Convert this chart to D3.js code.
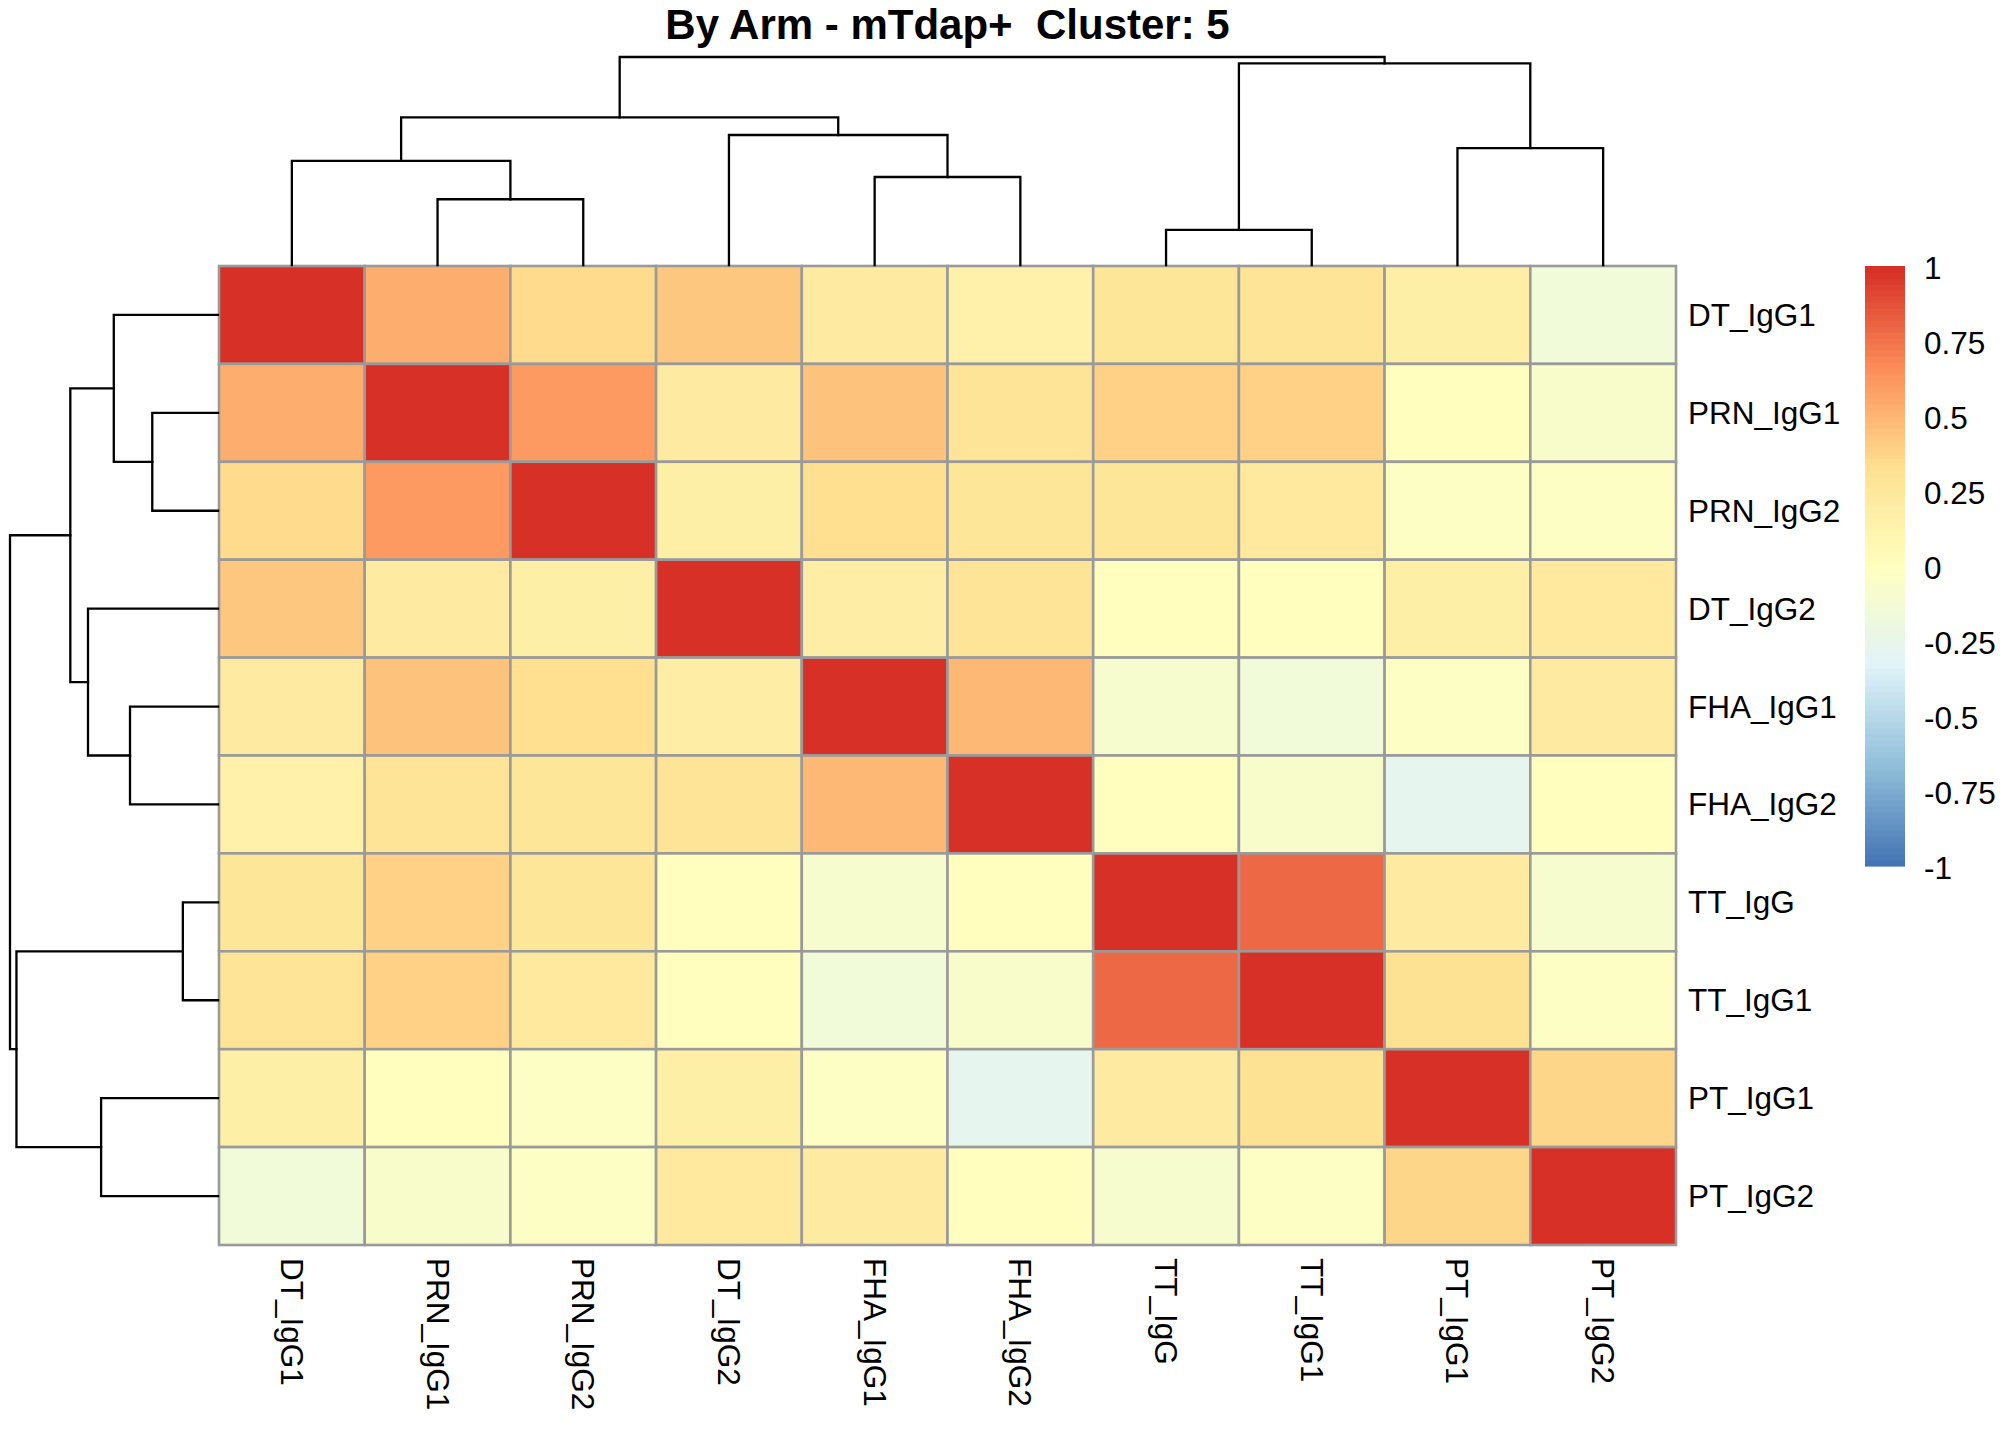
<!DOCTYPE html>
<html>
<head>
<meta charset="utf-8">
<script src="https://cdn.jsdelivr.net/npm/d3@7"></script>
<style>
  html, body { margin: 0; padding: 0; background: #ffffff; }
  svg { display: block; }
  text { font-family: "Liberation Sans", Arial, Helvetica, sans-serif; fill: #000; }
</style>
</head>
<body>
<svg id="chart" width="2016" height="1440"></svg>
<script>
// ---------------- data ----------------
const titleText = "By Arm - mTdap+  Cluster: 5";

const labels = ["DT_IgG1", "PRN_IgG1", "PRN_IgG2", "DT_IgG2", "FHA_IgG1",
                "FHA_IgG2", "TT_IgG", "TT_IgG1", "PT_IgG1", "PT_IgG2"];

// correlation matrix (rows and columns in the displayed order)
const rowDT_IgG1  = [ 1.00,  0.53,  0.35,  0.42,  0.20,  0.15,  0.27,  0.28,  0.17, -0.15];
const rowPRN_IgG1 = [ 0.53,  1.00,  0.61,  0.21,  0.45,  0.28,  0.39,  0.39,  0.01, -0.08];
const rowPRN_IgG2 = [ 0.35,  0.61,  1.00,  0.17,  0.33,  0.27,  0.26,  0.22, -0.03, -0.03];
const rowDT_IgG2  = [ 0.42,  0.21,  0.17,  1.00,  0.19,  0.28,  0.01,  0.01,  0.16,  0.22];
const rowFHA_IgG1 = [ 0.20,  0.45,  0.33,  0.19,  1.00,  0.48, -0.10, -0.15, -0.03,  0.20];
const rowFHA_IgG2 = [ 0.15,  0.28,  0.27,  0.28,  0.48,  1.00,  0.01, -0.08, -0.28,  0.01];
const rowTT_IgG   = [ 0.27,  0.39,  0.26,  0.01, -0.10,  0.01,  1.00,  0.79,  0.20, -0.10];
const rowTT_IgG1  = [ 0.28,  0.39,  0.22,  0.01, -0.15, -0.08,  0.79,  1.00,  0.30, -0.03];
const rowPT_IgG1  = [ 0.17,  0.01, -0.03,  0.16, -0.03, -0.28,  0.20,  0.30,  1.00,  0.36];
const rowPT_IgG2  = [-0.15, -0.08, -0.03,  0.22,  0.20,  0.01, -0.10, -0.03,  0.36,  1.00];
const matrix = [rowDT_IgG1, rowPRN_IgG1, rowPRN_IgG2, rowDT_IgG2, rowFHA_IgG1,
                rowFHA_IgG2, rowTT_IgG, rowTT_IgG1, rowPT_IgG1, rowPT_IgG2];

// hierarchical clustering (same tree for rows and columns), hclust style:
// negative = leaf (1-based position in display order), positive = earlier merge
const mergeLeft   = [-7, -2, -5, -1, -9, -4, 4, 1, 7];
const mergeRight  = [-8, -3, -6,  2, -10, 3, 6, 5, 8];
const mergeHeight = [0.169, 0.316, 0.423, 0.501, 0.562, 0.625, 0.710, 0.969, 1.000];

const legendTicks = [1, 0.75, 0.5, 0.25, 0, -0.25, -0.5, -0.75, -1];
const legendTickLabels = ["1", "0.75", "0.5", "0.25", "0", "-0.25", "-0.5", "-0.75", "-1"];

// palette: rev(brewer.pal(7, "RdYlBu")) ramped to 100 colours
const paletteStops = ["#4575B4", "#91BFDB", "#E0F3F8", "#FFFFBF", "#FEE090", "#FC8D59", "#D73027"];

// ---------------- layout ----------------
const hmLeft = 219, hmRight = 1676, hmTop = 266, hmBottom = 1245;
const treeTopY = 57, treeLeftX = 10;

const svg = d3.select("#chart");
svg.append("rect").attr("width", 2016).attr("height", 1440).attr("fill", "#fff");

const x = d3.scaleBand().domain(labels).range([hmLeft, hmRight]).padding(0);
const y = d3.scaleBand().domain(labels).range([hmTop, hmBottom]).padding(0);

const ramp = d3.scaleLinear()
  .domain(d3.range(paletteStops.length).map(i => i / (paletteStops.length - 1)))
  .range(paletteStops)
  .interpolate(d3.interpolateRgb);
const nColors = 100;
const colors = d3.range(nColors).map(i => ramp(i / (nColors - 1)));
const binScale = d3.scaleQuantize().domain([-1, 1]).range(colors);
const colorOf = v => binScale(Math.max(-1, Math.min(1, v)));

// ---------------- heatmap ----------------
const cells = [];
matrix.forEach((row, i) => row.forEach((v, j) => cells.push({r: labels[i], c: labels[j], v})));

svg.append("g").selectAll("rect").data(cells).join("rect")
  .attr("x", d => x(d.c))
  .attr("y", d => y(d.r))
  .attr("width", x.bandwidth())
  .attr("height", y.bandwidth())
  .attr("fill", d => colorOf(d.v))
  .attr("stroke", "#9A9A9A")
  .attr("stroke-width", 2.6);

// ---------------- dendrograms ----------------
function buildTree() {
  const nodes = [];
  const posOf = idx => idx < 0 ? {pos: -idx - 1, h: 0} : nodes[idx - 1];
  for (let k = 0; k < mergeLeft.length; k++) {
    const a = posOf(mergeLeft[k]), b = posOf(mergeRight[k]);
    nodes.push({a, b, pos: (a.pos + b.pos) / 2, h: mergeHeight[k]});
  }
  return nodes;
}
const treeNodes = buildTree();
const maxH = d3.max(mergeHeight);
const leafPosX = p => x(labels[0]) + (p + 0.5) * x.bandwidth();
const leafPosY = p => y(labels[0]) + (p + 0.5) * y.bandwidth();

// column tree (top)
const hTop = d3.scaleLinear().domain([0, maxH]).range([hmTop - 1, treeTopY]);
const colTree = svg.append("g").attr("fill", "none").attr("stroke", "#000")
  .attr("stroke-width", 2.3).attr("stroke-linecap", "square");
treeNodes.forEach(n => {
  const path = d3.path();
  path.moveTo(leafPosX(n.a.pos), hTop(n.a.h));
  path.lineTo(leafPosX(n.a.pos), hTop(n.h));
  path.lineTo(leafPosX(n.b.pos), hTop(n.h));
  path.lineTo(leafPosX(n.b.pos), hTop(n.b.h));
  colTree.append("path").attr("d", path.toString());
});

// row tree (left)
const hLeft = d3.scaleLinear().domain([0, maxH]).range([hmLeft - 1, treeLeftX]);
const rowTree = svg.append("g").attr("fill", "none").attr("stroke", "#000")
  .attr("stroke-width", 2.3).attr("stroke-linecap", "square");
treeNodes.forEach(n => {
  const path = d3.path();
  path.moveTo(hLeft(n.a.h), leafPosY(n.a.pos));
  path.lineTo(hLeft(n.h), leafPosY(n.a.pos));
  path.lineTo(hLeft(n.h), leafPosY(n.b.pos));
  path.lineTo(hLeft(n.b.h), leafPosY(n.b.pos));
  rowTree.append("path").attr("d", path.toString());
});

// ---------------- labels ----------------
svg.append("g").selectAll("text").data(labels).join("text")
  .attr("x", hmRight + 12)
  .attr("y", d => y(d) + y.bandwidth() / 2)
  .attr("dy", "0.35em")
  .attr("font-size", 31.5)
  .text(d => d);

svg.append("g").selectAll("text").data(labels).join("text")
  .attr("transform", d => `translate(${x(d) + x.bandwidth() / 2},${hmBottom + 13}) rotate(90)`)
  .attr("dy", "0.35em")
  .attr("text-anchor", "start")
  .attr("font-size", 31.5)
  .text(d => d);

// ---------------- title ----------------
svg.append("text")
  .attr("x", (hmLeft + hmRight) / 2)
  .attr("y", 39)
  .attr("text-anchor", "middle")
  .attr("font-size", 42)
  .attr("font-weight", "bold")
  .style("white-space", "pre")
  .attr("xml:space", "preserve")
  .text(titleText);

// ---------------- legend ----------------
const legX = 1865, legW = 40;
const legScale = d3.scaleLinear().domain([-1, 1]).range([866, 266]);
const legStep = 2 / nColors;
svg.append("g").selectAll("rect").data(colors).join("rect")
  .attr("x", legX)
  .attr("y", (c, i) => legScale(-1 + (i + 1) * legStep))
  .attr("width", legW)
  .attr("height", (c, i) => legScale(-1 + i * legStep) - legScale(-1 + (i + 1) * legStep) + 0.6)
  .attr("fill", c => c);

svg.append("g").selectAll("text").data(legendTicks).join("text")
  .attr("x", legX + legW + 19)
  .attr("y", d => legScale(d) + 2)
  .attr("dy", "0.35em")
  .attr("font-size", 31.5)
  .text((d, i) => legendTickLabels[i]);
</script>
</body>
</html>
